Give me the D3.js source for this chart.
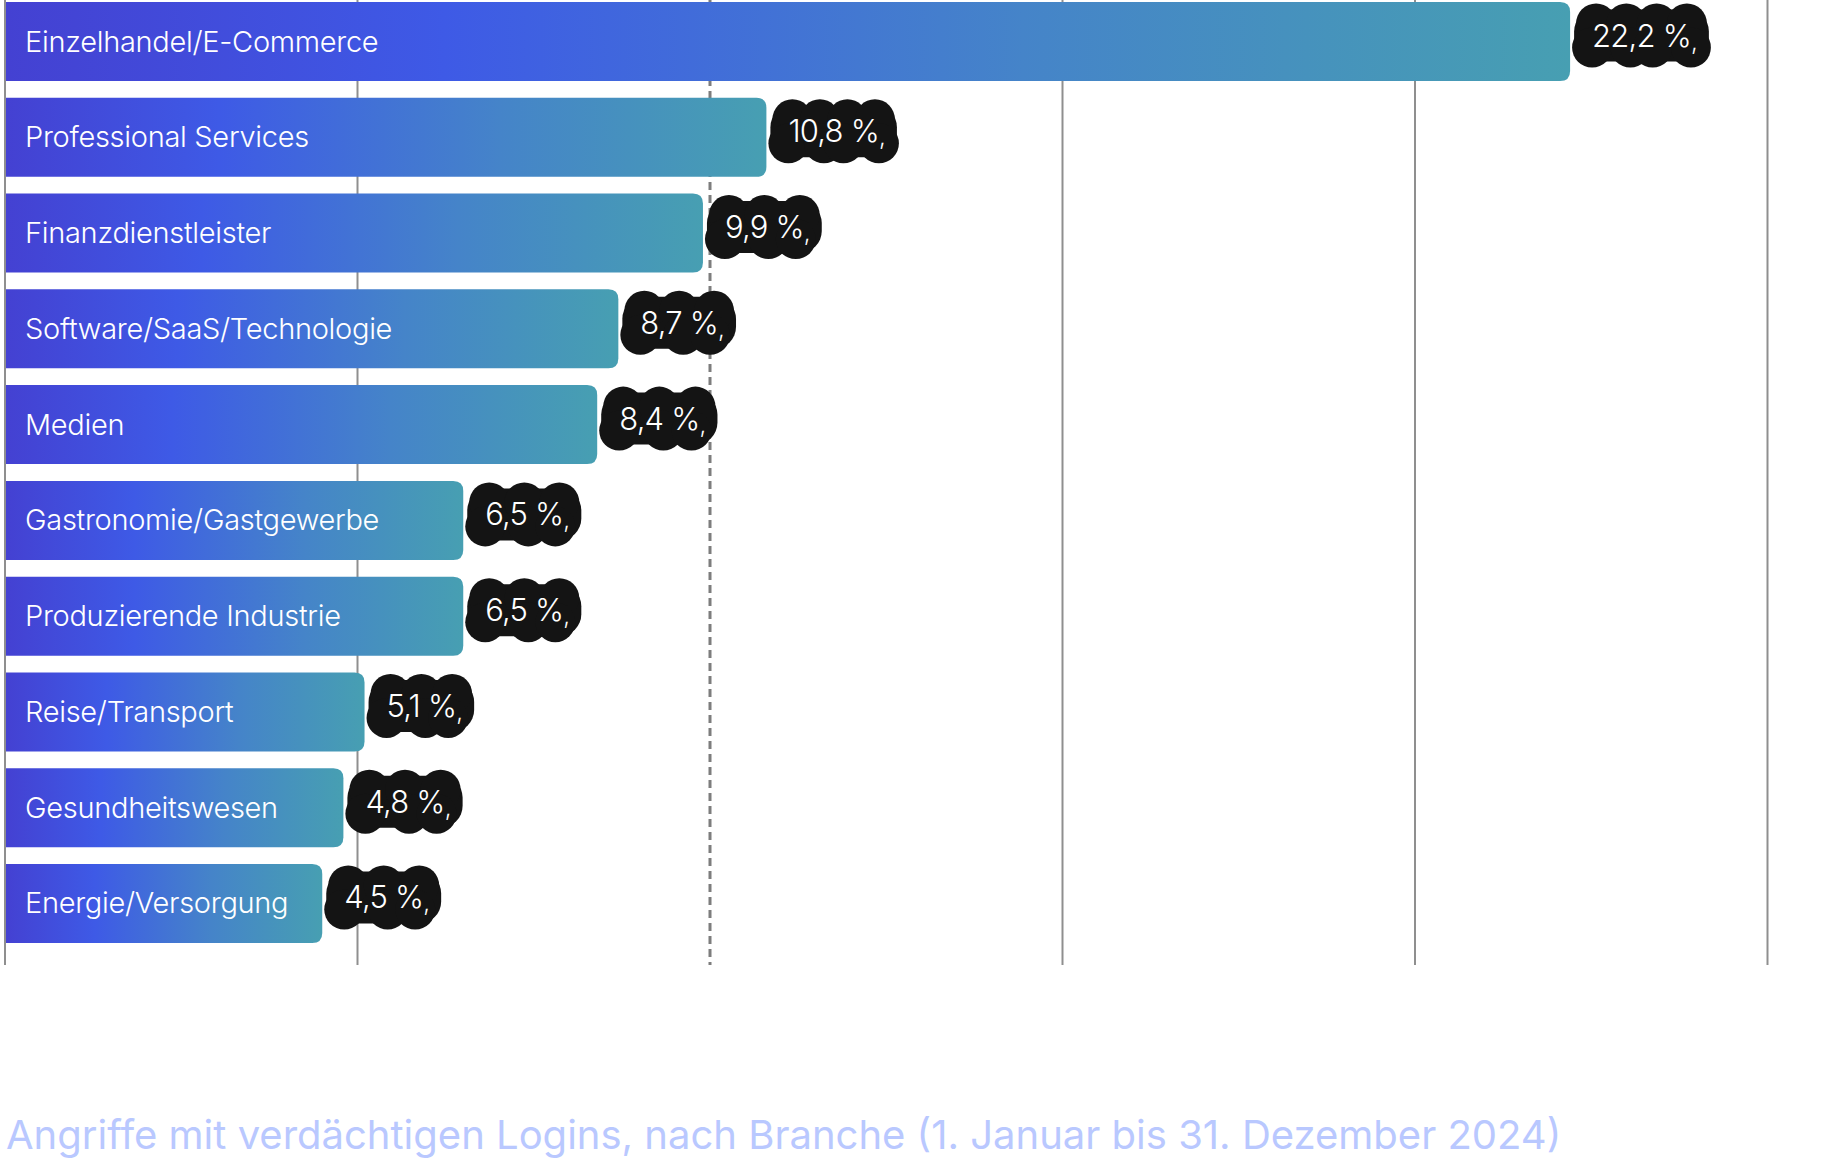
<!DOCTYPE html>
<html>
<head>
<meta charset="utf-8">
<script src="https://cdn.jsdelivr.net/npm/d3@7"></script>
<style>
  body { margin: 0; background: #fff; }
  svg { display: block; }
</style>
</head>
<body>
<div id="chart"></div>
<script>
var branchen = [
  "Einzelhandel/E-Commerce",
  "Professional Services",
  "Finanzdienstleister",
  "Software/SaaS/Technologie",
  "Medien",
  "Gastronomie/Gastgewerbe",
  "Produzierende Industrie",
  "Reise/Transport",
  "Gesundheitswesen",
  "Energie/Versorgung"
];
var anteile = [22.2, 10.8, 9.9, 8.7, 8.4, 6.5, 6.5, 5.1, 4.8, 4.5];
var gridTicks = [0, 5, 10, 15, 20, 25];
var referenzWert = 10;
var titel = "Angriffe mit verdächtigen Logins, nach Branche (1. Januar bis 31. Dezember 2024)";

function drawChart() {
  var svgWidth = 1831;
  var svgHeight = 1165;

  var data = branchen.map(function(b, i) {
    return { name: b, value: anteile[i], id: i };
  });

  var svg = d3.select("#chart")
    .append("svg")
    .attr("width", svgWidth)
    .attr("height", svgHeight);

  var defs = svg.append("defs");
  var grad = defs.append("linearGradient")
    .attr("id", "barGrad")
    .attr("x1", "0%").attr("x2", "100%")
    .attr("y1", "0%").attr("y2", "0%");
  grad.append("stop").attr("offset", "0%").attr("stop-color", "#4441d2");
  grad.append("stop").attr("offset", "28%").attr("stop-color", "#3e5ae6");
  grad.append("stop").attr("offset", "65%").attr("stop-color", "#4584c9");
  grad.append("stop").attr("offset", "100%").attr("stop-color", "#479fb2");

  var xScale = d3.scaleLinear()
    .domain([0, 25])
    .range([5, 1767.5]);

  var yScale = d3.scaleBand()
    .domain(branchen)
    .range([2, 943])
    .paddingInner(0.175)
    .paddingOuter(0);

  var gridBottom = 965;

  // grid lines
  svg.append("g")
    .selectAll("line")
    .data(gridTicks.filter(function(t) { return t !== referenzWert; }))
    .enter()
    .append("line")
    .attr("x1", d => xScale(d))
    .attr("x2", d => xScale(d))
    .attr("y1", 0)
    .attr("y2", gridBottom)
    .attr("stroke", "#8f8f8f")
    .attr("stroke-width", 2);

  // dashed reference line
  svg.append("line")
    .attr("x1", xScale(referenzWert))
    .attr("x2", xScale(referenzWert))
    .attr("y1", 0)
    .attr("y2", gridBottom)
    .attr("stroke", "#7d7d7d")
    .attr("stroke-width", 3)
    .attr("stroke-dasharray", "8,5");

  // bars with rounded right corners
  function barPath(d) {
    var x0 = xScale(0) + 1;
    var x1 = xScale(d.value);
    var y0 = yScale(d.name);
    var h = yScale.bandwidth();
    var r = 10;
    return "M" + x0 + "," + y0 +
      "H" + (x1 - r) +
      "Q" + x1 + "," + y0 + " " + x1 + "," + (y0 + r) +
      "V" + (y0 + h - r) +
      "Q" + x1 + "," + (y0 + h) + " " + (x1 - r) + "," + (y0 + h) +
      "H" + x0 + "Z";
  }

  svg.append("g")
    .selectAll("path")
    .data(data)
    .enter()
    .append("path")
    .attr("d", d => barPath(d))
    .attr("fill", "url(#barGrad)");

  // category labels inside bars
  svg.append("g")
    .selectAll("text")
    .data(data)
    .enter()
    .append("text")
    .attr("x", 25)
    .attr("y", d => yScale(d.name) + yScale.bandwidth() / 2 + 10)
    .attr("fill", "#ffffff")
    .attr("font-family", "Inter, 'Noto Sans', sans-serif")
    .attr("font-weight", 300)
    .attr("letter-spacing", "-0.3px")
    .attr("font-size", "29px")
    .text(d => d.name);

  // left axis line
  svg.append("line")
    .attr("x1", xScale(0))
    .attr("x2", xScale(0))
    .attr("y1", 0)
    .attr("y2", gridBottom)
    .attr("stroke", "#8f8f8f")
    .attr("stroke-width", 2);

  // value blobs
  var valueGroup = svg.append("g")
    .selectAll("g")
    .data(data)
    .enter()
    .append("g")
    .attr("transform", d => `translate(${xScale(d.value) + 4}, ${yScale(d.name) + yScale.bandwidth() / 2 - 6})`);

  valueGroup.each(function(d) {
    var g = d3.select(this);
    var blob = g.append("g").attr("fill", "#141414");
    var txt = g.append("text")
      .attr("x", 18)
      .attr("y", 11)
      .attr("fill", "#ffffff")
      .attr("font-family", "Inter, 'Noto Sans', sans-serif")
      .attr("font-weight", 300)
      .attr("letter-spacing", "-0.8px")
      .attr("font-size", "31px");
    txt.append("tspan").text(d3.format(".1f")(d.value).replace(".", ",") + " %");
    txt.append("tspan").attr("font-size", "24px").attr("dx", 0).attr("dy", 3).text(",");

    var w = txt.node().getComputedTextLength() + 30;
    var h = 64;
    blob.append("rect")
      .attr("x", 0)
      .attr("y", -h / 2 + 6)
      .attr("width", w)
      .attr("height", h - 12)
      .attr("rx", 22);
    var n = Math.max(3, Math.round(w / 34));
    for (var i = 0; i < n; i++) {
      var cx = 22 + i * (w - 44) / (n - 1);
      blob.append("circle").attr("cx", cx).attr("cy", -h / 2 + 20).attr("r", 20);
      blob.append("circle").attr("cx", cx + (i % 2 ? 4 : -4)).attr("cy", h / 2 - 20).attr("r", 20);
    }
  });

  // title
  svg.append("text")
    .attr("x", 6)
    .attr("y", 1149)
    .attr("fill", "#b9c8ff")
    .attr("font-family", "Inter, 'Noto Sans', sans-serif")
    .attr("font-size", "40px")
    .text(titel);
}

document.addEventListener('DOMContentLoaded', function(){
  drawChart();
});
</script>
</body>
</html>
